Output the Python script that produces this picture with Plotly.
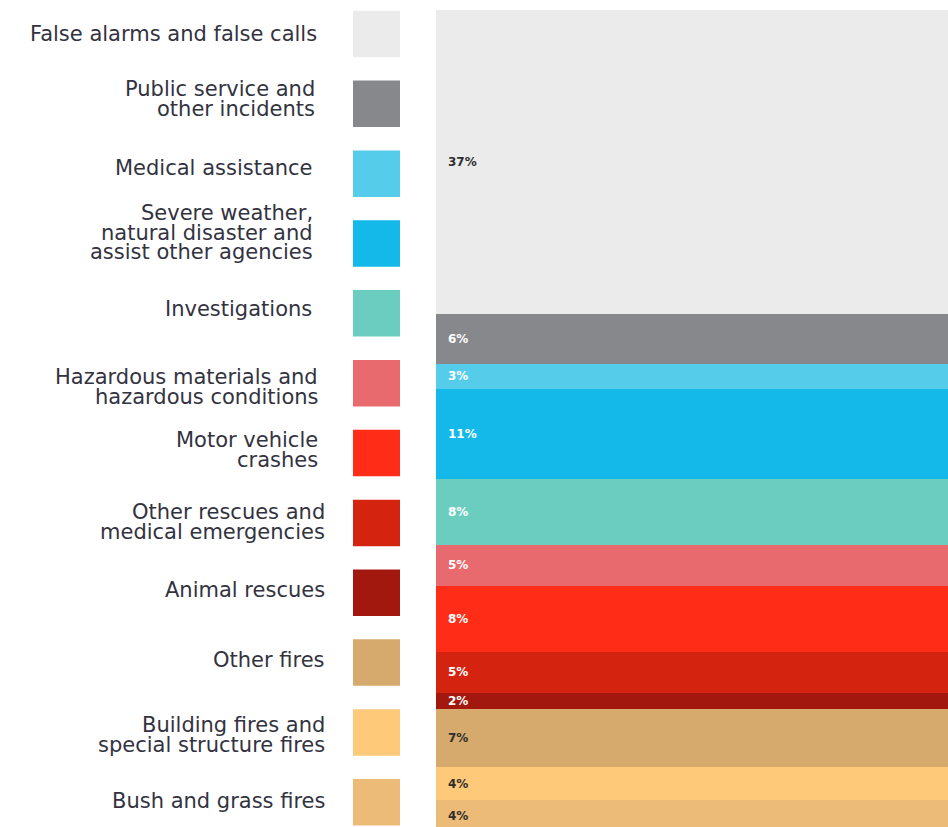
import plotly.graph_objects as go

# ---- data (top to bottom, as in the legend) ----
categories = [
    "False alarms and false calls",
    "Public service and other incidents",
    "Medical assistance",
    "Severe weather, natural disaster and assist other agencies",
    "Investigations",
    "Hazardous materials and hazardous conditions",
    "Motor vehicle crashes",
    "Other rescues and medical emergencies",
    "Animal rescues",
    "Other fires",
    "Building fires and special structure fires",
    "Bush and grass fires",
]
legend_lines = [
    ["False alarms and false calls"],
    ["Public service and", "other incidents"],
    ["Medical assistance"],
    ["Severe weather,", "natural disaster and", "assist other agencies"],
    ["Investigations"],
    ["Hazardous materials and", "hazardous conditions"],
    ["Motor vehicle", "crashes"],
    ["Other rescues and", "medical emergencies"],
    ["Animal rescues"],
    ["Other fires"],
    ["Building fires and", "special structure fires"],
    ["Bush and grass fires"],
]
percent_values = [37, 6, 3, 11, 8, 5, 8, 5, 2, 7, 4, 4]

# ---- styles ----
colors = ["#EBEBEB", "#87888C", "#55CCEA", "#14B9EA", "#6BCDC0", "#E8696E",
          "#FF2D17", "#D42410", "#A2170E", "#D6AA6C", "#FFC97A", "#EBBB77"]
label_dark = [True, False, False, False, False, False,
              False, False, False, True, True, True]
label_right_px = [319, 317, 315, 315, 314, 320, 320, 327, 327, 327, 327, 327]
label_first_y_px = [34, 89, 168, 213, 309, 377, 440, 512, 590, 660, 725, 801]
line_gap_px = 19.5

OFF = 0
W, H = 948, 827
bar_left_px, bar_top_px = 436, 10


def px_x(px):
    return (px - OFF) / W


def px_y(py):
    return 1 - (py - OFF) / H


fig = go.Figure()

# stacked from the bottom up
n = len(categories)
for i in reversed(range(n)):
    fig.add_trace(go.Bar(
        x=[0], y=[percent_values[i]], width=1,
        name=categories[i],
        marker=dict(color=colors[i], line=dict(width=0)),
        hoverinfo="skip", showlegend=False,
    ))

annotations = []
shapes = []

# percentage labels, centred in each segment
cum = 0
mids = {}
for i in reversed(range(n)):
    mids[i] = cum + percent_values[i] / 2
    cum += percent_values[i]
for i in range(n):
    annotations.append(dict(
        x=-0.5, y=mids[i], xref="x", yref="y", xanchor="left", yanchor="middle",
        xshift=10, text=f"<b>{percent_values[i]}%</b>", showarrow=False,
        font=dict(family="DejaVu Sans", size=12,
                  color="#2E2E2E" if label_dark[i] else "#FFFFFF"),
    ))

# custom legend
sq_size = 46.5
for i in range(n):
    top = 10.7 + i * 69.85
    shapes.append(dict(
        type="rect", xref="paper", yref="paper",
        x0=px_x(353), x1=px_x(400),
        y0=px_y(top + sq_size), y1=px_y(top),
        fillcolor=colors[i], line=dict(width=0), layer="above",
    ))
    for j, ln in enumerate(legend_lines[i]):
        ly = label_first_y_px[i] + j * line_gap_px
        annotations.append(dict(
            x=px_x(label_right_px[i]), y=px_y(ly), xref="paper", yref="paper",
            xanchor="right", yanchor="middle", text=ln, showarrow=False,
            font=dict(family="DejaVu Sans", size=21, color="#33333F"),
        ))

fig.update_layout(
    width=W, height=H,
    margin=dict(l=0, r=0, t=0, b=0),
    barmode="stack", bargap=0,
    paper_bgcolor="white", plot_bgcolor="white",
    xaxis=dict(domain=[px_x(bar_left_px), 1], range=[-0.5, 0.5],
               visible=False, fixedrange=True),
    yaxis=dict(domain=[0, px_y(bar_top_px)], range=[0.72, 100],
               visible=False, fixedrange=True),
    annotations=annotations,
    shapes=shapes,
    showlegend=False,
)

fig.write_html(
    "out.html",
    config={"displayModeBar": False},
    post_script="document.body.style.margin='0px';"
                "document.body.style.overflow='hidden';",
)
